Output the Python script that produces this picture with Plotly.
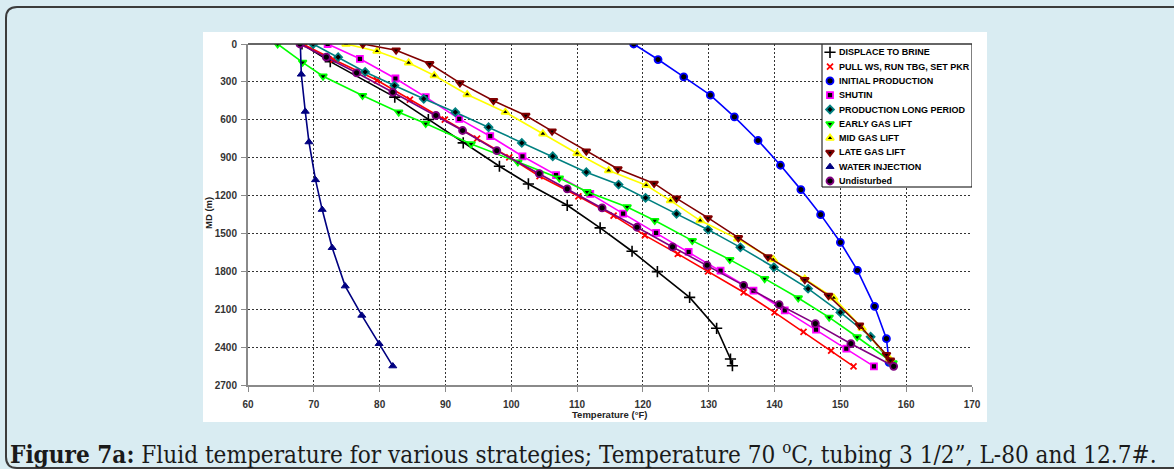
import plotly.graph_objects as go

# ---------------- data: temperature (°F) vs measured depth (m) ----------------
series_names = [
    "DISPLACE TO BRINE",
    "PULL WS, RUN TBG, SET PKR",
    "INITIAL PRODUCTION",
    "SHUTIN",
    "PRODUCTION LONG PERIOD",
    "EARLY GAS LIFT",
    "MID GAS LIFT",
    "LATE GAS LIFT",
    "WATER INJECTION",
    "Undisturbed",
]

brine_T = [68.2, 72.5, 82.3, 87.4, 92.7, 98.2, 102.6, 108.5, 113.5, 118.35, 122.2, 127.1, 131.2, 133.3, 133.6]
brine_MD = [0, 140, 421, 598, 783, 968, 1108, 1277, 1456, 1641, 1802, 2006, 2251, 2494, 2547]

pull_T = [68.3, 73.0, 79.6, 84.6, 89.9, 94.8, 99.7, 104.3, 110.2, 115.55, 120.3, 125.3, 129.9, 135.3, 140.0, 144.4, 148.6, 152.0]
pull_MD = [0, 123, 287, 440, 598, 749, 897, 1047, 1206, 1359, 1515, 1662, 1800, 1966, 2125, 2280, 2428, 2552]

initial_T = [118.6, 122.3, 126.2, 130.25, 133.9, 137.5, 140.9, 144.0, 147.0, 150.0, 152.6, 155.2, 157.0, 157.4]
initial_MD = [0, 123, 260, 405, 577, 764, 960, 1153, 1351, 1570, 1792, 2077, 2333, 2520]

shutin_T = [72.1, 77.0, 82.4, 87.0, 92.1, 96.8, 101.7, 106.8, 112.0, 117.0, 122.0, 126.95, 131.8, 136.8, 141.55, 146.3, 150.9, 155.1]
shutin_MD = [0, 117, 273, 421, 593, 730, 889, 1039, 1187, 1343, 1496, 1646, 1794, 1953, 2109, 2262, 2412, 2552]

longprod_T = [69.9, 73.7, 77.8, 82.25, 86.7, 91.5, 96.55, 101.6, 106.3, 111.4, 116.3, 120.4, 125.1, 129.9, 134.8, 139.9, 145.1, 150.0, 154.6, 157.6]
longprod_MD = [0, 104, 221, 329, 434, 540, 659, 783, 889, 1015, 1113, 1218, 1345, 1470, 1610, 1768, 1937, 2125, 2318, 2520]

early_T = [64.5, 68.3, 71.4, 77.4, 82.9, 87.0, 93.9, 101.0, 107.3, 111.5, 117.6, 121.8, 127.5, 133.2, 138.5, 143.6, 148.3, 152.55, 158.0]
early_MD = [0, 145, 255, 408, 540, 630, 791, 935, 1062, 1170, 1290, 1398, 1557, 1707, 1858, 2011, 2164, 2320, 2525]

mid_T = [74.9, 79.6, 84.4, 88.3, 93.3, 99.1, 104.8, 110.0, 114.8, 120.5, 124.2, 128.7, 134.4, 139.8, 144.6, 149.0, 153.3, 157.5]
mid_MD = [0, 57, 149, 250, 400, 540, 711, 867, 1002, 1118, 1240, 1398, 1543, 1707, 1860, 2010, 2250, 2495]

late_T = [77.45, 82.5, 87.6, 92.2, 97.3, 102.2, 106.2, 111.4, 116.2, 121.7, 125.1, 129.9, 134.5, 139.0, 144.6, 148.2, 152.9, 157.0, 157.6]
late_MD = [0, 49, 157, 308, 449, 566, 690, 849, 989, 1104, 1222, 1377, 1535, 1686, 1866, 1992, 2227, 2460, 2505]

water_T = [67.95, 68.1, 68.7, 69.26, 70.26, 71.27, 72.79, 74.77, 77.29, 79.92, 82.0]
water_MD = [0, 240, 534, 776, 1076, 1311, 1613, 1917, 2149, 2373, 2550]

undist_T = [67.9, 71.9, 76.5, 82.0, 88.55, 92.6, 97.8, 104.25, 108.5, 113.8, 119.1, 124.5, 129.75, 135.3, 140.7, 146.2, 151.6, 158.1]
undist_MD = [0, 104, 228, 382, 566, 685, 844, 1026, 1147, 1298, 1451, 1607, 1752, 1911, 2064, 2214, 2373, 2552]

x_ticks = [60, 70, 80, 90, 100, 110, 120, 130, 140, 150, 160, 170]
y_ticks = [0, 300, 600, 900, 1200, 1500, 1800, 2100, 2400, 2700]

series_T = [brine_T, pull_T, initial_T, shutin_T, longprod_T, early_T, mid_T, late_T, water_T, undist_T]
series_MD = [brine_MD, pull_MD, initial_MD, shutin_MD, longprod_MD, early_MD, mid_MD, late_MD, water_MD, undist_MD]

# ---------------- styles ----------------
line_colors = ["#000000", "#ff0000", "#0000ff", "#ff00ff", "#008080",
               "#00ff00", "#ffff00", "#800000", "#000080", "#800080"]
marker_styles = [
    dict(symbol="cross-thin", size=8, color="#000000", line=dict(color="#000000", width=1.6)),
    dict(symbol="x-thin", size=6, color="#ff0000", line=dict(color="#ff0000", width=1.8)),
    dict(symbol="circle", size=7, color="#000000", line=dict(color="#0000ff", width=1.8)),
    dict(symbol="square", size=6, color="#000000", line=dict(color="#ff00ff", width=1.8)),
    dict(symbol="diamond", size=6, color="#000000", line=dict(color="#008080", width=1.8)),
    dict(symbol="triangle-down", size=7, color="#000000", line=dict(color="#00ff00", width=1.8)),
    dict(symbol="triangle-up", size=7, color="#000000", line=dict(color="#ffff00", width=1.8)),
    dict(symbol="triangle-down", size=7, color="#000000", line=dict(color="#800000", width=2)),
    dict(symbol="triangle-up", size=7, color="#000080", line=dict(color="#000080", width=1)),
    dict(symbol="circle", size=7, color="#000000", line=dict(color="#800080", width=1.8)),
]

W, H = 1174, 469
ML, MR, MT, MB = 248, 202, 44, 84
PW, PH = W - ML - MR, H - MT - MB
X_RANGE = (60, 170)
Y_RANGE = (0, 2700)


def fx(p):
    """pixel column -> paper x"""
    return (p - ML) / PW


def fy(p):
    """pixel row -> paper y"""
    return 1 - (p - MT) / PH


def dx(p):
    """pixel column -> temperature axis value"""
    return X_RANGE[0] + (p - ML) / PW * (X_RANGE[1] - X_RANGE[0])


def dy(p):
    """pixel row -> depth axis value"""
    return Y_RANGE[0] + (p - MT) / PH * (Y_RANGE[1] - Y_RANGE[0])


fig = go.Figure()

for name, T, MD, lc, ms in zip(series_names, series_T, series_MD, line_colors, marker_styles):
    fig.add_trace(go.Scatter(
        x=T, y=MD, name=name, mode="lines+markers",
        line=dict(color=lc, width=1.6),
        marker=ms, showlegend=False, hoverinfo="x+y+name",
    ))

# ---------------- legend drawn in a pixel-space overlay ----------------
leg_x0, leg_x1, leg_y0, leg_y1 = 822, 972, 43, 187
row0, row_step = 52.3, 14.3
for i, (lc, ms) in enumerate(zip(line_colors, marker_styles)):
    fig.add_trace(go.Scatter(
        x=[830], y=[row0 + i * row_step], xaxis="x2", yaxis="y2",
        mode="markers", marker=ms, showlegend=False, hoverinfo="skip",
        cliponaxis=False,
    ))

annotations = []
for i, name in enumerate(series_names):
    annotations.append(dict(
        xref="x2", yref="y2", x=836.5, y=row0 + i * row_step,
        text=f"<b>{name}</b>", showarrow=False, xanchor="left", yanchor="middle",
        font=dict(family="Liberation Sans, Arial", size=9, color="#000000"),
    ))

# axis titles
annotations.append(dict(
    xref="paper", yref="paper", x=fx(609.5), y=fy(414.5),
    text="<b>Temperature (°F)</b>", showarrow=False,
    xanchor="center", yanchor="middle",
    font=dict(family="Liberation Sans, Arial", size=9.5, color="#222222"),
))
annotations.append(dict(
    xref="paper", yref="paper", x=fx(208), y=fy(213),
    text="<b>MD (m)</b>", showarrow=False, textangle=-90,
    xanchor="center", yanchor="middle",
    font=dict(family="Liberation Sans, Arial", size=9.5, color="#222222"),
))

# caption
annotations.append(dict(
    xref="paper", yref="paper", x=fx(8), y=fy(453),
    text="<b>Figure 7a:</b> Fluid temperature for various strategies; Temperature 70 <sup>o</sup>C, "
         "tubing 3 1/2\u201d, L-80 and 12.7#.",
    showarrow=False, xanchor="left", yanchor="middle",
    font=dict(family="DejaVu Serif Condensed, DejaVu Serif", size=24.1, color="#1a1a1a"),
))


def rounded_path(x0, y0, x1, y1, r):
    return (f"M {fx(x0)},{fy(y0 + r)} Q {fx(x0)},{fy(y0)} {fx(x0 + r)},{fy(y0)} "
            f"L {fx(x1)},{fy(y0)} L {fx(x1)},{fy(y1)} L {fx(x0 + r)},{fy(y1)} "
            f"Q {fx(x0)},{fy(y1)} {fx(x0)},{fy(y1 - r)} Z")


shapes = [
    # white chart panel
    dict(type="rect", xref="paper", yref="paper", layer="below",
         x0=fx(203), x1=fx(987), y0=fy(422), y1=fy(32),
         fillcolor="#ffffff", line=dict(width=0)),
    # caption frame
    dict(type="path", xref="paper", yref="paper", layer="below",
         path=rounded_path(6, 7, 1190, 468, 11),
         line=dict(color="#3c3c3c", width=2)),
    # top frame line
    dict(type="line", xref="paper", yref="paper", layer="above",
         x0=0, x1=1, y0=1, y1=1, line=dict(color="#333333", width=1.5)),
    # legend box (above the grid, below the traces)
    dict(type="rect", xref="x", yref="y", layer="between",
         x0=dx(leg_x0), x1=dx(leg_x1), y0=dy(leg_y0), y1=dy(leg_y1),
         fillcolor="#ffffff", line=dict(color="#000000", width=1)),
]

tick_font = dict(family="Liberation Sans, Arial", size=10, color="#333333", weight="bold")

fig.update_layout(
    width=W, height=H,
    margin=dict(l=ML, r=MR, t=MT, b=MB, pad=0),
    paper_bgcolor="#d9ecf2",
    plot_bgcolor="#ffffff",
    showlegend=False,
    xaxis=dict(
        range=list(X_RANGE), tickvals=x_ticks, ticktext=[str(v) for v in x_ticks],
        showgrid=True, gridcolor="#333333", gridwidth=1, griddash="2px,2px",
        showline=True, linecolor="#8a8a8a", linewidth=2,
        ticks="outside", ticklen=5, tickcolor="#8a8a8a", tickwidth=1,
        tickfont=tick_font, ticklabelstandoff=4, zeroline=False,
    ),
    yaxis=dict(
        range=[Y_RANGE[1], Y_RANGE[0]], tickvals=y_ticks, ticktext=[str(v) for v in y_ticks],
        showgrid=True, gridcolor="#333333", gridwidth=1, griddash="2px,2px",
        showline=True, linecolor="#8a8a8a", linewidth=2,
        ticks="outside", ticklen=5, tickcolor="#8a8a8a", tickwidth=1,
        tickfont=tick_font, ticklabelstandoff=2, zeroline=False,
    ),
    xaxis2=dict(range=[ML, W - MR], overlaying="x", anchor="y2", visible=False,
                fixedrange=True),
    yaxis2=dict(range=[H - MB, MT], overlaying="y", anchor="x2", visible=False,
                fixedrange=True),
    annotations=annotations,
    shapes=shapes,
)

fig.write_html("out.html")
